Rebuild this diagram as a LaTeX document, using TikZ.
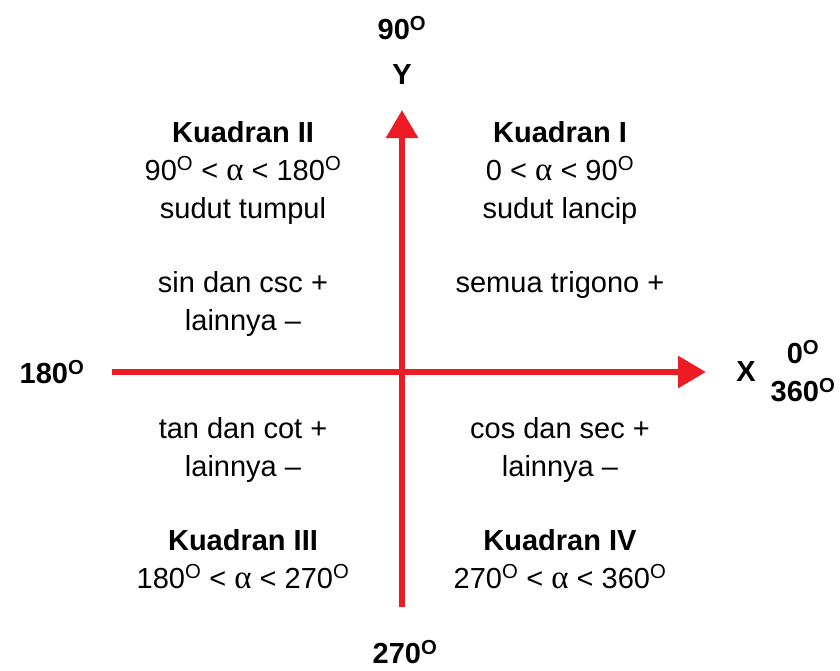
\documentclass[tikz,border=0pt]{standalone}
\usepackage{fontspec}
\setmainfont{Liberation Sans}
\newfontfamily\serifgr{Liberation Serif}
\usetikzlibrary{arrows.meta}
\definecolor{axred}{HTML}{ED1C24}
\newcommand{\dg}{\textsuperscript{O}}
\newcommand{\alf}{{\serifgr\fontsize{33}{38}\selectfont α}}
\begin{document}
\begin{tikzpicture}[x=1pt,y=-1pt,
  axis/.style={draw=axred,line width=6pt,-{Triangle[width=31pt,length=28pt]}},
  lbl/.style={font=\fontsize{29}{34}\selectfont\bfseries,inner sep=0pt},
  quad/.style={font=\fontsize{29}{38}\selectfont,align=center,inner sep=0pt,anchor=base}]
\useasboundingbox (0,0) rectangle (840,670);
\coordinate (ybot) at (402,607);
\coordinate (ytop) at (402,110);
\coordinate (xl) at (112,372);
\coordinate (xr) at (706,372);
\draw[axis] (ybot) -- (ytop);
\draw[axis] (xl) -- (xr);
\node[lbl] (n90) at (402,28) {90\dg};
\node[lbl] (ny) at (402,75) {Y};
\node[lbl] (nx) at (746,372) {X};
\node[lbl] (n0) at (803,352) {0\dg};
\node[lbl] (n360) at (803,390) {360\dg};
\node[lbl] (n180) at (52,372) {180\dg};
\node[lbl] (n270) at (405,652) {270\dg};
\node[quad] (q2) at (243,218) {\textbf{Kuadran II}\\90\dg{} < \alf{} < 180\dg\\sudut tumpul};
\node[quad] (q1) at (560,218) {\textbf{Kuadran I}\\0 < \alf{} < 90\dg\\sudut lancip};
\node[quad] (s2) at (243,330) {sin dan csc +\\lainnya --};
\node[quad] (s1) at (560,292) {semua trigono +};
\node[quad] (s3) at (243,476) {tan dan cot +\\lainnya --};
\node[quad] (s4) at (560,476) {cos dan sec +\\lainnya --};
\node[quad] (q3) at (243,588) {\textbf{Kuadran III}\\180\dg{} < \alf{} < 270\dg};
\node[quad] (q4) at (560,588) {\textbf{Kuadran IV}\\270\dg{} < \alf{} < 360\dg};
\end{tikzpicture}
\end{document}
